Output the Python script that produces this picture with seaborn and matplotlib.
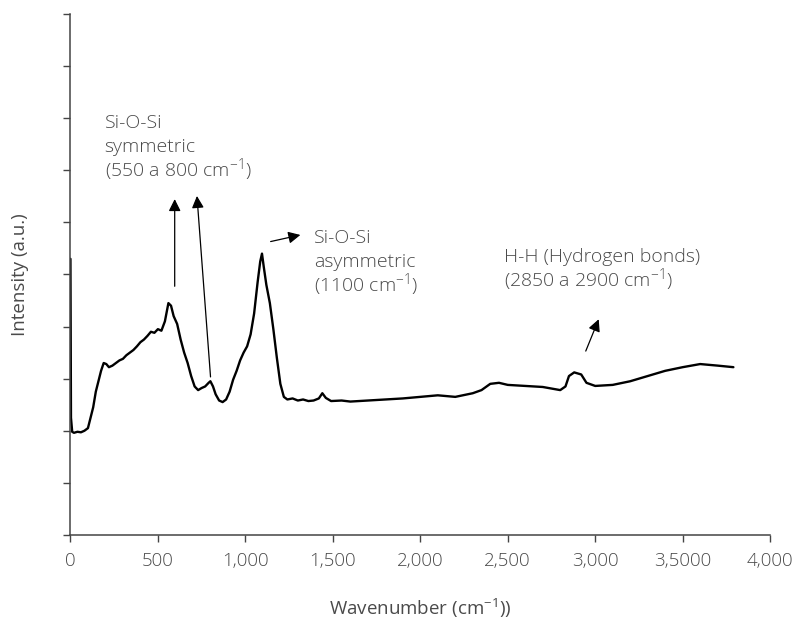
import pandas as pd
import matplotlib.pyplot as plt
import seaborn as sns

# Spectrum (intensity in y-tick units)
wavenumber = [0, 3, 10, 20, 40, 60, 80, 100, 115, 130, 145, 160, 175, 190, 205, 220,
              240, 260, 280, 300, 320, 340, 360, 380, 400, 420, 440, 460, 480, 500,
              520, 540, 560, 575, 590, 610, 630, 650, 670, 690, 710, 730, 750, 770,
              790, 800, 815, 830, 850, 870, 890, 910, 930, 950, 970, 990, 1010, 1030,
              1050, 1070, 1085, 1095, 1105, 1120, 1140, 1160, 1180, 1200, 1220, 1240,
              1270, 1300, 1330, 1360, 1390, 1420, 1440, 1460, 1490, 1550, 1600, 1700,
              1800, 1900, 2000, 2100, 2200, 2300, 2350, 2400, 2450, 2500, 2600, 2700,
              2800, 2830, 2850, 2880, 2920, 2950, 3000, 3100, 3200, 3300, 3400, 3500,
              3600, 3700, 3790]
intensity = [5.30, 2.25, 1.98, 1.96, 1.98, 1.97, 2.00, 2.05, 2.25, 2.45, 2.75, 2.95,
             3.15, 3.30, 3.28, 3.22, 3.25, 3.30, 3.35, 3.38, 3.45, 3.50, 3.55, 3.62,
             3.70, 3.75, 3.82, 3.90, 3.88, 3.95, 3.92, 4.10, 4.45, 4.40, 4.20, 4.05,
             3.75, 3.50, 3.30, 3.05, 2.85, 2.78, 2.82, 2.85, 2.92, 2.95, 2.85, 2.70,
             2.58, 2.55, 2.60, 2.75, 2.98, 3.15, 3.35, 3.50, 3.62, 3.85, 4.25, 4.85,
             5.25, 5.40, 5.15, 4.80, 4.45, 3.95, 3.40, 2.90, 2.65, 2.60, 2.62, 2.58,
             2.60, 2.57, 2.58, 2.62, 2.72, 2.63, 2.57, 2.58, 2.56, 2.58, 2.60, 2.62,
             2.65, 2.68, 2.65, 2.72, 2.78, 2.90, 2.92, 2.88, 2.86, 2.84, 2.78, 2.85,
             3.05, 3.12, 3.08, 2.92, 2.86, 2.88, 2.95, 3.05, 3.15, 3.22, 3.28, 3.25,
             3.22]

xtick_values = [0, 500, 1000, 1500, 2000, 2500, 3000, 3500, 4000]
xtick_labels = ["0", "500", "1,000", "1,500", "2,000", "2,500", "3,000", "3,5000", "4,000"]

# annotation labels: (x, baseline y of first line, lines)
labels = [
    (195, 7.81, ["Si-O-Si", "symmetric", "(550 a 800 cm$^{-1}$)"]),
    (1392, 5.60, ["Si-O-Si", "asymmetric", "(1100 cm$^{-1}$)"]),
    (2476, 5.24, ["H-H (Hydrogen bonds)", "(2850 a 2900 cm$^{-1}$)"]),
]
# arrows: (tail x, tail y, head x, head y)
arrows = [(596, 4.72, 596, 6.5), (802, 2.98, 722, 6.56),
          (1129, 5.62, 1330, 5.77), (2940, 3.48, 3026, 4.19)]

df = pd.DataFrame({"Wavenumber": wavenumber, "Intensity": intensity})

sns.set_style("ticks")
plt.rcParams["font.family"] = ["Open Sans", "DejaVu Sans"]
plt.rcParams["font.weight"] = "light"
plt.rcParams["mathtext.default"] = "regular"
txt = "#4a4a4a"

fig = plt.figure(figsize=(7.96, 6.22), dpi=100)
ax = fig.add_axes([0.0885, 0.14, 0.879, 0.8375])

sns.lineplot(data=df, x="Wavenumber", y="Intensity", color="black", linewidth=1.7, ax=ax)

ax.set_xlim(0, 4000)
ax.set_ylim(0, 10)
ax.set_xticks(xtick_values)
ax.set_xticklabels(xtick_labels)
ax.set_yticks(range(0, 11))
ax.set_yticklabels([])
ax.tick_params(axis="both", colors="#444444", labelcolor=txt, labelsize=13.5, length=5, width=1)
ax.tick_params(axis="x", pad=7)
for s in ["left", "bottom"]:
    ax.spines[s].set_color("#444444")
    ax.spines[s].set_linewidth(1.1)
sns.despine(ax=ax)

ax.set_xlabel("Wavenumber (cm$^{-1}$))", fontsize=13.5, color=txt, labelpad=20)
ax.set_ylabel("Intensity (a.u.)", fontsize=13.5, color=txt, labelpad=21)

arrow = dict(arrowstyle="-|>", color="black", lw=0.9, mutation_scale=18)
for x0, y0, x1, y1 in arrows:
    ax.annotate("", xy=(x1, y1), xytext=(x0, y0), arrowprops=arrow)

for x, y, lines in labels:
    for i, line in enumerate(lines):
        ax.annotate(line, xy=(x, y), xytext=(0, -17.3 * i), textcoords="offset points",
                    fontsize=14, color=txt, va="baseline", ha="left")

plt.savefig("out.png", dpi=100)
